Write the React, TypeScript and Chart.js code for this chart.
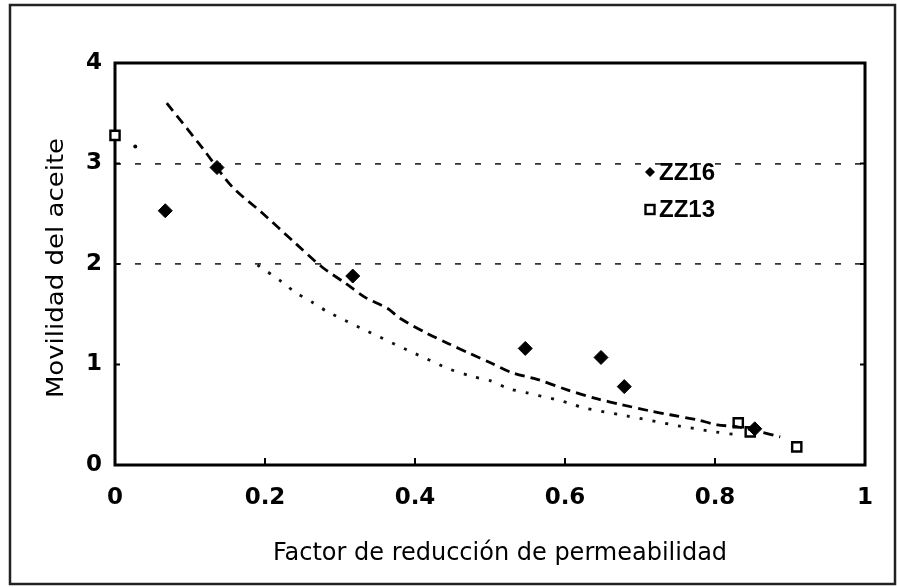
import React, { useEffect, useRef } from "react";
import { Chart, registerables } from "chart.js";

Chart.register(...registerables);

// ---- data ----
const xTickValues = [0, 0.2, 0.4, 0.6, 0.8, 1];
const xTickLabels = ["0", "0.2", "0.4", "0.6", "0.8", "1"];
const yTickValues = [0, 1, 2, 3, 4];
const yTickLabels = ["0", "1", "2", "3", "4"];
const refGridY = [2, 3];

const seriesNames = ["ZZ16", "ZZ13"];
const xTitle = "Factor de reducción de permeabilidad";
const yTitle = "Movilidad del aceite";

const zz16X = [0.067, 0.136, 0.317, 0.547, 0.648, 0.679, 0.853];
const zz16Y = [2.53, 2.96, 1.88, 1.16, 1.07, 0.78, 0.36];

const zz13X = [0.0, 0.831, 0.847, 0.909];
const zz13Y = [3.28, 0.42, 0.33, 0.18];

const fitDashX = [0.069, 0.117, 0.156, 0.196, 0.24, 0.276, 0.307, 0.333, 0.363, 0.38, 0.416, 0.444, 0.473, 0.5, 0.529, 0.564, 0.602, 0.642, 0.676, 0.712, 0.74, 0.776, 0.803, 0.83, 0.86, 0.887];
const fitDashY = [3.6, 3.15, 2.77, 2.51, 2.21, 1.97, 1.81, 1.67, 1.56, 1.46, 1.31, 1.21, 1.11, 1.02, 0.92, 0.85, 0.75, 0.66, 0.6, 0.54, 0.5, 0.45, 0.4, 0.38, 0.33, 0.28];

const fitDotX = [0.19, 0.223, 0.24, 0.263, 0.287, 0.441, 0.477, 0.5, 0.525, 0.548, 0.588, 0.608, 0.624, 0.681, 0.751, 0.8, 0.83];
const fitDotY = [1.99, 1.82, 1.72, 1.62, 1.51, 0.97, 0.88, 0.84, 0.76, 0.72, 0.65, 0.61, 0.57, 0.49, 0.39, 0.33, 0.3];

const strayX = [0.027];
const strayY = [3.17];

const pts = (xs: number[], ys: number[]) => xs.map((x, i) => ({ x, y: ys[i] }));

const framePlugin = {
  id: "frameAndText",
  beforeDatasetsDraw(chart: any) {
    const { ctx, chartArea: a, scales } = chart;
    ctx.save();
    ctx.strokeStyle = "#000";
    ctx.lineWidth = 3;
    ctx.strokeRect(a.left, a.top, a.right - a.left, a.bottom - a.top);
    ctx.lineWidth = 2;
    ctx.beginPath();
    xTickValues.forEach((v) => {
      const px = scales.x.getPixelForValue(v);
      if (px > a.left + 2 && px < a.right - 2) {
        ctx.moveTo(px, a.bottom);
        ctx.lineTo(px, a.bottom - 7);
      }
    });
    yTickValues.forEach((v) => {
      const py = scales.y.getPixelForValue(v);
      if (py > a.top + 2 && py < a.bottom - 2) {
        ctx.moveTo(a.left, py);
        ctx.lineTo(a.left + 5, py);
        ctx.moveTo(a.right, py);
        ctx.lineTo(a.right - 5, py);
      }
    });
    ctx.stroke();
    ctx.restore();
  },
  afterDraw(chart: any) {
    const { ctx, chartArea: a } = chart;
    ctx.save();
    // outer border
    ctx.strokeStyle = "#222";
    ctx.lineWidth = 2.5;
    ctx.strokeRect(10, 5, 885, 579);

    // x title
    ctx.fillStyle = "#000";
    ctx.font = "24px 'DejaVu Sans'";
    ctx.textAlign = "center";
    ctx.textBaseline = "alphabetic";
    ctx.fillText(xTitle, (a.left + a.right) / 2 + 10, a.bottom + 95);

    // y title
    ctx.save();
    ctx.translate(a.left - 52, (a.top + a.bottom) / 2 + 4);
    ctx.scale(0.87, 1);
    ctx.rotate(-Math.PI / 2);
    ctx.font = "26px 'DejaVu Sans'";
    ctx.fillText(yTitle, 0, 0);
    ctx.restore();

    // legend
    const lx = a.left + 535;
    const ly1 = a.top + 109;
    const ly2 = a.top + 146;
    ctx.font = "bold 24px 'Liberation Sans'";
    ctx.textAlign = "left";
    ctx.textBaseline = "middle";
    ctx.fillText(seriesNames[0], lx + 9, ly1 + 1);
    ctx.fillText(seriesNames[1], lx + 9, ly2 + 1);
    ctx.beginPath();
    ctx.moveTo(lx, ly1 - 5);
    ctx.lineTo(lx + 5, ly1);
    ctx.lineTo(lx, ly1 + 5);
    ctx.lineTo(lx - 5, ly1);
    ctx.closePath();
    ctx.fill();
    ctx.lineWidth = 2.4;
    ctx.strokeStyle = "#000";
    ctx.strokeRect(lx - 4.5, ly2 - 4, 9, 9);
    ctx.restore();
  },
};

export default function App() {
  const ref = useRef<HTMLCanvasElement | null>(null);

  useEffect(() => {
    if (!ref.current) return;
    const chart = new Chart(ref.current, {
      type: "scatter",
      data: {
        datasets: [
          {
            label: "fit dashed",
            data: pts(fitDashX, fitDashY),
            showLine: true,
            borderColor: "#000",
            borderWidth: 2.8,
            borderDash: [10, 6],
            pointRadius: 0,
            fill: false,
            tension: 0.3,
          },
          {
            label: "fit dotted",
            data: pts(fitDotX, fitDotY),
            showLine: true,
            borderColor: "#111",
            borderWidth: 2.8,
            borderDash: [3, 10],
            pointRadius: 0,
            fill: false,
            tension: 0.3,
          },
          {
            label: "marks",
            data: pts(strayX, strayY),
            pointRadius: 2,
            pointBackgroundColor: "#000",
            pointBorderWidth: 0,
          },
          {
            label: seriesNames[0],
            data: pts(zz16X, zz16Y),
            pointStyle: "rectRot",
            pointRadius: 7,
            pointBackgroundColor: "#000",
            pointBorderColor: "#000",
            pointBorderWidth: 1,
            clip: false,
          },
          {
            label: seriesNames[1],
            data: pts(zz13X, zz13Y),
            pointStyle: "rect",
            pointRadius: 6.5,
            pointBackgroundColor: "#fff",
            pointBorderColor: "#000",
            pointBorderWidth: 2.4,
            clip: false,
          },
        ],
      },
      options: {
        responsive: false,
        animation: false,
        layout: { padding: { left: 0, top: 63, right: 32, bottom: 0 } },
        plugins: { legend: { display: false }, tooltip: { enabled: false } },
        scales: {
          x: {
            type: "linear",
            min: 0,
            max: 1,
            afterBuildTicks: (s: any) => {
              s.ticks = xTickValues.map((v) => ({ value: v }));
            },
            afterFit: (s: any) => {
              s.height = 122;
            },
            ticks: {
              callback: (_v: any, i: number) => xTickLabels[i],
              color: "#000",
              font: { family: "'DejaVu Sans'", size: 23, weight: "bold" },
              padding: 19,
              maxRotation: 0,
            },
            grid: { display: false, drawTicks: false },
            border: { display: false },
          },
          y: {
            type: "linear",
            min: 0,
            max: 4,
            afterBuildTicks: (s: any) => {
              s.ticks = yTickValues.map((v) => ({ value: v }));
            },
            afterFit: (s: any) => {
              s.width = 115;
            },
            ticks: {
              callback: (_v: any, i: number) => yTickLabels[i],
              color: "#000",
              font: { family: "'DejaVu Sans'", size: 23, weight: "bold" },
              padding: 13,
            },
            grid: {
              drawTicks: false,
              lineWidth: 1.8,
              color: (c: any) =>
                c.tick && refGridY.includes(c.tick.value) ? "#333" : "rgba(0,0,0,0)",
            },
            border: { display: false, dash: [6, 14] },
          },
        },
      },
      plugins: [framePlugin],
    } as any);
    return () => chart.destroy();
  }, []);

  return (
    <div style={{ width: 897, height: 587, background: "#fff" }}>
      <style>{`body{margin:0;background:#fff}`}</style>
      <canvas ref={ref} width={897} height={587} style={{ display: "block" }} />
    </div>
  );
}
